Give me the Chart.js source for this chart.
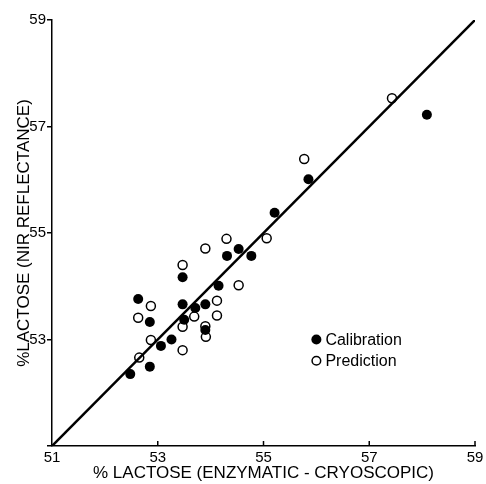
<!DOCTYPE html>
<html>
<head>
<meta charset="utf-8">
<script src="https://cdn.jsdelivr.net/npm/chart.js@4"></script>
<style>
  body { margin: 0; background: #fff; }
  canvas { display: block; }
</style>
</head>
<body>
<canvas id="myChart" width="486" height="484"></canvas>
<script>
// enzymatic-cryoscopic (x) vs NIR reflectance (y), % lactose
const calibX = [52.48, 52.85, 52.63, 52.85, 53.06, 53.26, 53.47, 53.47, 53.50, 53.71, 53.90, 53.90, 54.15, 54.31, 54.53, 54.77, 55.21, 55.85, 58.09];
const calibY = [52.35, 52.49, 53.76, 53.33, 52.88, 53.00, 54.17, 53.66, 53.37, 53.59, 53.66, 53.18, 54.01, 54.57, 54.70, 54.57, 55.38, 56.01, 57.22];
const predX = [52.65, 52.87, 52.63, 52.87, 53.47, 53.47, 53.47, 53.69, 53.90, 53.91, 53.90, 54.12, 54.12, 54.30, 54.53, 55.06, 55.77, 57.43];
const predY = [52.66, 52.99, 53.41, 53.63, 52.80, 53.24, 54.40, 53.43, 53.25, 53.05, 54.71, 53.73, 53.45, 54.89, 54.02, 54.90, 56.39, 57.53];
const lineX = [51, 59];
const lineY = [51, 59];
const tickValues = [51, 53, 55, 57, 59];

const FONT = "'Liberation Sans', Arial, sans-serif";

function toPoints(xs, ys) {
    return xs.map((x, i) => ({ x: x, y: ys[i] }));
}

// short tick marks pointing up into the plot on the x axis
const innerTicks = {
    id: 'innerTicks',
    afterDraw(chart) {
        const ctx = chart.ctx;
        const xs = chart.scales.x;
        ctx.save();
        ctx.strokeStyle = '#000';
        ctx.lineWidth = 1.5;
        tickValues.slice(1).forEach(v => {
            const px = xs.getPixelForValue(v);
            ctx.beginPath();
            ctx.moveTo(px, xs.top);
            ctx.lineTo(px, xs.top - 5);
            ctx.stroke();
        });
        ctx.restore();
    }
};

// key inside the plot area
const keyBox = {
    id: 'keyBox',
    afterDraw(chart) {
        const ctx = chart.ctx;
        const xs = chart.scales.x;
        const ys = chart.scales.y;
        const cx = xs.getPixelForValue(56.0);
        const rows = [
            { y: ys.getPixelForValue(53.0), label: 'Calibration', filled: true },
            { y: ys.getPixelForValue(52.6), label: 'Prediction', filled: false }
        ];
        ctx.save();
        ctx.font = '16px ' + FONT;
        ctx.textBaseline = 'middle';
        ctx.fillStyle = '#000';
        ctx.strokeStyle = '#000';
        ctx.lineWidth = 1.5;
        rows.forEach(r => {
            ctx.beginPath();
            ctx.arc(cx, r.y, r.filled ? 5 : 4.3, 0, Math.PI * 2);
            if (r.filled) ctx.fill(); else ctx.stroke();
            ctx.fillText(r.label, cx + 9, r.y + 1);
        });
        ctx.restore();
    }
};

const ctx = document.getElementById('myChart').getContext('2d');
const myChart = new Chart(ctx, {
    type: 'scatter',
    data: {
        datasets: [
            {
                label: 'Fit',
                type: 'line',
                data: toPoints(lineX, lineY),
                borderColor: '#000',
                borderWidth: 2.5,
                pointRadius: 0,
                fill: false
            },
            {
                label: 'Calibration',
                data: toPoints(calibX, calibY),
                backgroundColor: '#000',
                borderColor: '#000',
                pointRadius: 5,
                borderWidth: 0
            },
            {
                label: 'Prediction',
                data: toPoints(predX, predY),
                backgroundColor: '#fff',
                borderColor: '#000',
                pointRadius: 4.5,
                borderWidth: 1.5
            }
        ]
    },
    options: {
        responsive: false,
        animation: false,
        layout: { padding: { top: 20, right: 11, left: 0, bottom: 0 } },
        plugins: {
            legend: { display: false },
            tooltip: { enabled: false }
        },
        scales: {
            x: {
                type: 'linear',
                min: 51,
                max: 59,
                afterBuildTicks: s => { s.ticks = tickValues.map(v => ({ value: v })); },
                ticks: {
                    color: '#000',
                    font: { family: FONT, size: 15 },
                    padding: -5,
                    maxRotation: 0
                },
                grid: { display: false },
                border: { display: true, color: '#000', width: 1.5 },
                title: {
                    display: true,
                    text: '% LACTOSE (ENZYMATIC - CRYOSCOPIC)',
                    color: '#000',
                    font: { family: FONT, size: 17 },
                    padding: { top: 0, bottom: 0 }
                },
                afterFit: s => { s.height = 38; }
            },
            y: {
                type: 'linear',
                min: 51,
                max: 59,
                afterBuildTicks: s => { s.ticks = tickValues.map(v => ({ value: v })); },
                ticks: {
                    color: '#000',
                    font: { family: FONT, size: 15 },
                    padding: 1,
                    callback: v => (v === 51 ? '' : v)
                },
                grid: {
                    display: true,
                    drawOnChartArea: false,
                    drawTicks: true,
                    tickLength: 5,
                    color: '#000',
                    lineWidth: 1.5
                },
                border: { display: true, color: '#000', width: 1.5 },
                title: {
                    display: true,
                    text: '%LACTOSE (NIR REFLECTANCE)',
                    color: '#000',
                    font: { family: FONT, size: 17 },
                    padding: { top: 14, bottom: 0 }
                },
                afterFit: s => { s.width = 52; }
            }
        }
    },
    plugins: [innerTicks, keyBox]
});
</script>
</body>
</html>
